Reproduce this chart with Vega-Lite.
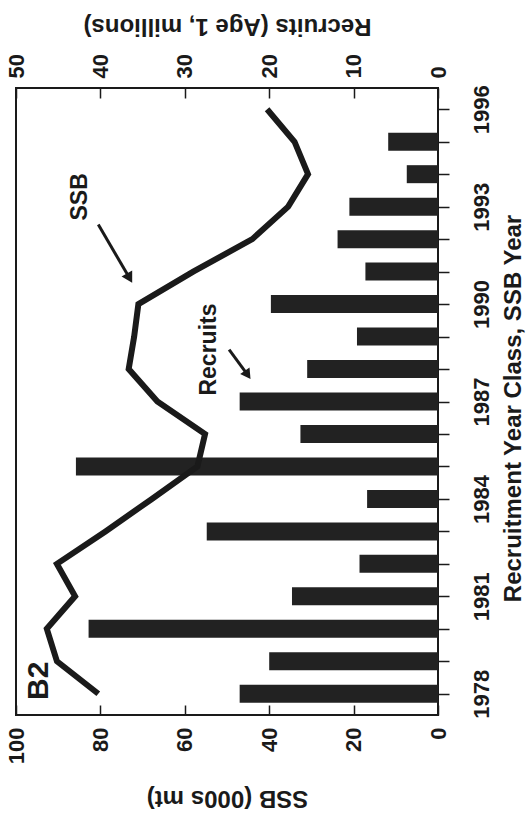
{
  "$schema": "https://vega.github.io/schema/vega-lite/v6.json",
  "width": 422,
  "height": 627,
  "autosize": {"type": "none"},
  "padding": {"left": 16, "top": 88, "right": 91, "bottom": 104},
  "background": "white",
  "config": {
    "view": {"stroke": "#1a1a1a", "strokeWidth": 2},
    "font": "Liberation Sans",
    "axis": {
      "labelFont": "Liberation Sans",
      "labelFontWeight": "bold",
      "labelFontSize": 22,
      "labelColor": "#1a1a1a",
      "titleFont": "Liberation Sans",
      "titleFontWeight": "bold",
      "titleFontSize": 24,
      "titleColor": "#1a1a1a",
      "domain": false,
      "grid": false,
      "tickColor": "#1a1a1a",
      "tickWidth": 1.5,
      "labelFlush": false,
      "labelOverlap": false
    }
  },
  "datasets": {
    "fishery": [
      {"year": 1978, "recruits": 23.5, "ssb": 80.5},
      {"year": 1979, "recruits": 20.0, "ssb": 90.3},
      {"year": 1980, "recruits": 41.4, "ssb": 92.7},
      {"year": 1981, "recruits": 17.3, "ssb": 86.0},
      {"year": 1982, "recruits": 9.3, "ssb": 90.3},
      {"year": 1983, "recruits": 27.4, "ssb": 78.8},
      {"year": 1984, "recruits": 8.4, "ssb": 67.8},
      {"year": 1985, "recruits": 42.9, "ssb": 57.0},
      {"year": 1986, "recruits": 16.3, "ssb": 55.2},
      {"year": 1987, "recruits": 23.5, "ssb": 66.5},
      {"year": 1988, "recruits": 15.5, "ssb": 73.3},
      {"year": 1989, "recruits": 9.6, "ssb": 72.0},
      {"year": 1990, "recruits": 19.8, "ssb": 71.0},
      {"year": 1991, "recruits": 8.6, "ssb": 58.0},
      {"year": 1992, "recruits": 11.9, "ssb": 44.0},
      {"year": 1993, "recruits": 10.5, "ssb": 35.5},
      {"year": 1994, "recruits": 3.7, "ssb": 30.8},
      {"year": 1995, "recruits": 5.9, "ssb": 34.0},
      {"year": 1996, "recruits": null, "ssb": 40.5}
    ],
    "notes": [
      {"label": "B2", "ssb": 94.5, "year": 1978.4},
      {"label": "SSB", "ssb": 84.8, "year": 1993.3},
      {"label": "Recruits", "ssb": 54.3, "year": 1988.6}
    ],
    "arrows": [
      {"name": "SSB", "ssb_from": 80.5, "year_from": 1992.45, "ssb_to": 73.1, "year_to": 1990.8},
      {"name": "Recruits", "ssb_from": 49.5, "year_from": 1988.6, "ssb_to": 45.1, "year_to": 1987.82}
    ]
  },
  "layer": [
    {
      "data": {"name": "fishery"},
      "mark": {"type": "bar", "orient": "horizontal", "size": 18, "color": "#222222"},
      "encoding": {
        "y": {
          "field": "year",
          "type": "quantitative",
          "scale": {"domain": [1977.5, 1996.5], "nice": false, "zero": false},
          "axis": {
            "orient": "right",
            "values": [1978, 1979, 1980, 1981, 1982, 1983, 1984, 1985, 1986, 1987, 1988, 1989, 1990, 1991, 1992, 1993, 1994, 1995, 1996],
            "tickCount": 19,
            "format": "d",
            "labelExpr": "(datum.value - 1978) % 3 === 0 ? datum.label : ''",
            "labelOverlap": false,
            "labelFlush": false,
            "labelBound": false,
            "tickSize": 11,
            "labelAngle": 270,
            "labelAlign": "center",
            "labelBaseline": "top",
            "labelPadding": 22,
            "title": "Recruitment Year Class, SSB Year",
            "titleAngle": 270,
            "titleAlign": "center",
            "titleBaseline": "middle",
            "titleX": 75,
            "titleY": 320
          }
        },
        "x": {
          "field": "recruits",
          "type": "quantitative",
          "scale": {"domain": [0, 50], "reverse": true, "nice": false},
          "axis": {
            "orient": "top",
            "values": [0, 10, 20, 30, 40, 50],
            "labelOverlap": false,
            "tickSize": -10,
            "labelAngle": 270,
            "labelAlign": "left",
            "labelBaseline": "middle",
            "labelPadding": 20,
            "title": "Recruits (Age 1, millions)",
            "titleAngle": 180,
            "titleAlign": "center",
            "titleBaseline": "middle",
            "titleX": 211,
            "titleY": -63
          }
        }
      }
    },
    {
      "data": {"name": "fishery"},
      "mark": {"type": "line", "color": "#1a1a1a", "strokeWidth": 6, "strokeJoin": "miter", "strokeCap": "butt"},
      "encoding": {
        "y": {
          "field": "year",
          "type": "quantitative",
          "axis": {
            "orient": "right",
            "values": [1978, 1979, 1980, 1981, 1982, 1983, 1984, 1985, 1986, 1987, 1988, 1989, 1990, 1991, 1992, 1993, 1994, 1995, 1996],
            "tickCount": 19,
            "format": "d",
            "labelExpr": "(datum.value - 1978) % 3 === 0 ? datum.label : ''",
            "labelOverlap": false,
            "labelFlush": false,
            "labelBound": false,
            "tickSize": 11,
            "labelAngle": 270,
            "labelAlign": "center",
            "labelBaseline": "top",
            "labelPadding": 22,
            "title": "Recruitment Year Class, SSB Year",
            "titleAngle": 270,
            "titleAlign": "center",
            "titleBaseline": "middle",
            "titleX": 75,
            "titleY": 320
          }
        },
        "x": {
          "field": "ssb",
          "type": "quantitative",
          "scale": {"domain": [0, 100], "reverse": true, "nice": false},
          "axis": {
            "orient": "bottom",
            "values": [0, 20, 40, 60, 80, 100],
            "labelOverlap": false,
            "tickSize": -10,
            "labelAngle": 270,
            "labelAlign": "right",
            "labelBaseline": "middle",
            "labelPadding": 22,
            "title": "SSB (000s mt)",
            "titleAngle": 180,
            "titleAlign": "center",
            "titleBaseline": "middle",
            "titleX": 211,
            "titleY": 82
          }
        },
        "order": {"field": "year", "type": "quantitative"}
      }
    },
    {
      "data": {"name": "notes"},
      "mark": {"type": "text", "angle": 270, "font": "Liberation Sans", "fontWeight": "bold", "fontSize": 23, "color": "#1a1a1a", "align": "center", "baseline": "middle"},
      "encoding": {
        "y": {
          "field": "year",
          "type": "quantitative",
          "axis": {
            "orient": "right",
            "values": [1978, 1979, 1980, 1981, 1982, 1983, 1984, 1985, 1986, 1987, 1988, 1989, 1990, 1991, 1992, 1993, 1994, 1995, 1996],
            "tickCount": 19,
            "format": "d",
            "labelExpr": "(datum.value - 1978) % 3 === 0 ? datum.label : ''",
            "labelOverlap": false,
            "labelFlush": false,
            "labelBound": false,
            "tickSize": 11,
            "labelAngle": 270,
            "labelAlign": "center",
            "labelBaseline": "top",
            "labelPadding": 22,
            "title": "Recruitment Year Class, SSB Year",
            "titleAngle": 270,
            "titleAlign": "center",
            "titleBaseline": "middle",
            "titleX": 75,
            "titleY": 320
          }
        },
        "x": {"field": "ssb", "type": "quantitative", "scale": {"domain": [0, 100], "reverse": true, "nice": false}, "axis": null},
        "text": {"field": "label"},
        "size": {"condition": {"test": "datum.label === 'B2'", "value": 30}, "value": 23}
      }
    },
    {
      "data": {"name": "arrows"},
      "mark": {"type": "rule", "color": "#1a1a1a", "strokeWidth": 3},
      "encoding": {
        "y": {
          "field": "year_from",
          "type": "quantitative",
          "axis": {
            "orient": "right",
            "values": [1978, 1979, 1980, 1981, 1982, 1983, 1984, 1985, 1986, 1987, 1988, 1989, 1990, 1991, 1992, 1993, 1994, 1995, 1996],
            "tickCount": 19,
            "format": "d",
            "labelExpr": "(datum.value - 1978) % 3 === 0 ? datum.label : ''",
            "labelOverlap": false,
            "labelFlush": false,
            "labelBound": false,
            "tickSize": 11,
            "labelAngle": 270,
            "labelAlign": "center",
            "labelBaseline": "top",
            "labelPadding": 22,
            "title": "Recruitment Year Class, SSB Year",
            "titleAngle": 270,
            "titleAlign": "center",
            "titleBaseline": "middle",
            "titleX": 75,
            "titleY": 320
          }
        },
        "y2": {"field": "year_to"},
        "x": {"field": "ssb_from", "type": "quantitative", "scale": {"domain": [0, 100], "reverse": true, "nice": false}, "axis": null},
        "x2": {"field": "ssb_to"}
      }
    },
    {
      "data": {"name": "arrows"},
      "transform": [{"filter": "datum.name === 'SSB'"}],
      "mark": {"type": "point", "shape": "triangle-up", "filled": true, "opacity": 1, "color": "#1a1a1a", "size": 150, "angle": 150},
      "encoding": {
        "y": {
          "field": "year_to",
          "type": "quantitative",
          "axis": {
            "orient": "right",
            "values": [1978, 1979, 1980, 1981, 1982, 1983, 1984, 1985, 1986, 1987, 1988, 1989, 1990, 1991, 1992, 1993, 1994, 1995, 1996],
            "tickCount": 19,
            "format": "d",
            "labelExpr": "(datum.value - 1978) % 3 === 0 ? datum.label : ''",
            "labelOverlap": false,
            "labelFlush": false,
            "labelBound": false,
            "tickSize": 11,
            "labelAngle": 270,
            "labelAlign": "center",
            "labelBaseline": "top",
            "labelPadding": 22,
            "title": "Recruitment Year Class, SSB Year",
            "titleAngle": 270,
            "titleAlign": "center",
            "titleBaseline": "middle",
            "titleX": 75,
            "titleY": 320
          }
        },
        "x": {"field": "ssb_to", "type": "quantitative", "scale": {"domain": [0, 100], "reverse": true, "nice": false}, "axis": null}
      }
    },
    {
      "data": {"name": "arrows"},
      "transform": [{"filter": "datum.name === 'Recruits'"}],
      "mark": {"type": "point", "shape": "triangle-up", "filled": true, "opacity": 1, "color": "#1a1a1a", "size": 130, "angle": 145},
      "encoding": {
        "y": {
          "field": "year_to",
          "type": "quantitative",
          "axis": {
            "orient": "right",
            "values": [1978, 1979, 1980, 1981, 1982, 1983, 1984, 1985, 1986, 1987, 1988, 1989, 1990, 1991, 1992, 1993, 1994, 1995, 1996],
            "tickCount": 19,
            "format": "d",
            "labelExpr": "(datum.value - 1978) % 3 === 0 ? datum.label : ''",
            "labelOverlap": false,
            "labelFlush": false,
            "labelBound": false,
            "tickSize": 11,
            "labelAngle": 270,
            "labelAlign": "center",
            "labelBaseline": "top",
            "labelPadding": 22,
            "title": "Recruitment Year Class, SSB Year",
            "titleAngle": 270,
            "titleAlign": "center",
            "titleBaseline": "middle",
            "titleX": 75,
            "titleY": 320
          }
        },
        "x": {"field": "ssb_to", "type": "quantitative", "scale": {"domain": [0, 100], "reverse": true, "nice": false}, "axis": null}
      }
    }
  ],
  "resolve": {"scale": {"x": "independent"}, "axis": {"x": "independent"}}
}
